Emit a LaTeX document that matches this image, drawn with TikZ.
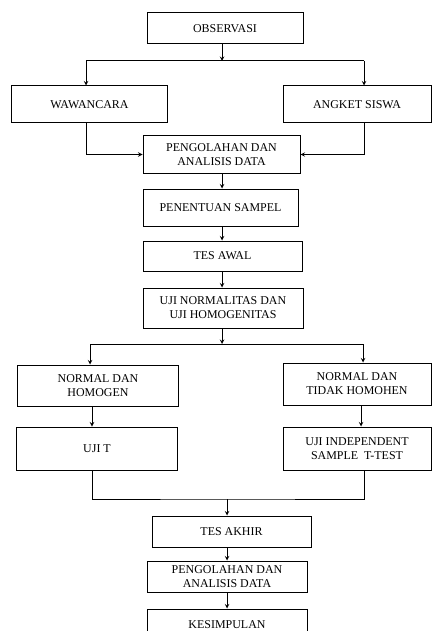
\documentclass[tikz,border=0pt]{standalone}
\usepackage{fontspec}
\setmainfont{Liberation Serif}
\usetikzlibrary{calc}

\begin{document}
\begin{tikzpicture}[x=1bp,y=-1bp,
    kotak/.style={draw,line width=1bp,rectangle,align=center,inner sep=0pt,
      font=\fontsize{12}{14}\selectfont},
    garis/.style={line width=1bp},
    panah/.style={line width=1bp,-stealth}]
  % page of the same size as the reference
  \useasboundingbox (0,0) rectangle (432,631);
  \clip (0,0) rectangle (432,631);

  % boxes
  \node[kotak,minimum width=156bp,minimum height=31bp] (obs) at (225,28.5) {OBSERVASI};
  \node[kotak,minimum width=155bp,minimum height=37bp] (waw) at (89.5,104.5) {WAWANCARA};
  \node[kotak,minimum width=148bp,minimum height=37bp] (ang) at (357,104.5) {ANGKET SISWA};
  \node[kotak,minimum width=157bp,minimum height=37bp] (olahA) at (221.5,154.5) {PENGOLAHAN DAN\\ANALISIS DATA};
  \node[kotak,minimum width=155bp,minimum height=37bp] (sampel) at (220.5,207.5) {PENENTUAN SAMPEL};
  \node[kotak,minimum width=159bp,minimum height=30bp] (awal) at (222.5,256) {TES AWAL};
  \node[kotak,minimum width=160bp,minimum height=40bp] (uji) at (223,308) {UJI NORMALITAS DAN\\UJI HOMOGENITAS};
  \node[kotak,minimum width=160bp,minimum height=41bp] (homogen) at (98,385.5) {NORMAL DAN\\HOMOGEN};
  \node[kotak,minimum width=148bp,minimum height=42bp] (tidak) at (357,384) {NORMAL DAN\\TIDAK HOMOHEN};
  \node[kotak,minimum width=160bp,minimum height=43bp] (ujit) at (97,448.5) {UJI T};
  \node[kotak,minimum width=148bp,minimum height=43bp] (indep) at (357,448.5) {UJI INDEPENDENT\\SAMPLE\ \ T-TEST};
  \node[kotak,minimum width=159bp,minimum height=31bp] (akhir) at (231.5,531.5) {TES AKHIR};
  \node[kotak,minimum width=160bp,minimum height=31bp] (olahB) at (227,576.5) {PENGOLAHAN DAN\\ANALISIS DATA};
  \node[kotak,minimum width=160bp,minimum height=31bp] (simpul) at (227,624.5) {KESIMPULAN};

  % branch points
  \coordinate (jA) at (222,61);
  \coordinate (jAl) at (86,61);
  \coordinate (jAr) at (364,61);
  \coordinate (jB) at (222,344);
  \coordinate (jBl) at (90,344);
  \coordinate (jBr) at (363,344);
  \coordinate (jC) at (227,499);

  % top part
  \draw[panah] (obs.south -| jA) -- (jA);
  \draw[garis] (jAl) -- (jAr);
  \draw[panah] (jAl) -- (jAl |- waw.north);
  \draw[panah] (jAr) -- (jAr |- ang.north);
  \draw[panah] (waw.south -| jAl) |- (olahA.west);
  \draw[panah] (ang.south -| jAr) |- (olahA.east);
  \draw[panah] (olahA.south -| jA) -- (jA |- sampel.north);
  \draw[panah] (sampel.south -| jA) -- (jA |- awal.north);
  \draw[panah] (awal.south -| jA) -- (jA |- uji.north);

  % middle part
  \draw[panah] (uji.south -| jB) -- (jB);
  \draw[garis] (jBl) -- (jBr);
  \draw[panah] (jBl) -- (jBl |- homogen.north);
  \draw[panah] (jBr) -- (jBr |- tidak.north);
  \draw[panah] ($(homogen.south)+(-6,0)$) -- ($(ujit.north)+(-5,0)$);
  \draw[panah] ($(tidak.south)+(4,0)$) -- ($(indep.north)+(4,0)$);

  % bottom part
  \draw[garis] ($(ujit.south)+(-5,0)$) |- (jC) -| ($(indep.south)+(7,0)$);
  \draw[panah] (jC) -- (jC |- akhir.north);
  \draw[panah] (akhir.south -| jC) -- (jC |- olahB.north);
  \draw[panah] (olahB.south -| jC) -- (jC |- simpul.north);
\end{tikzpicture}
\end{document}
